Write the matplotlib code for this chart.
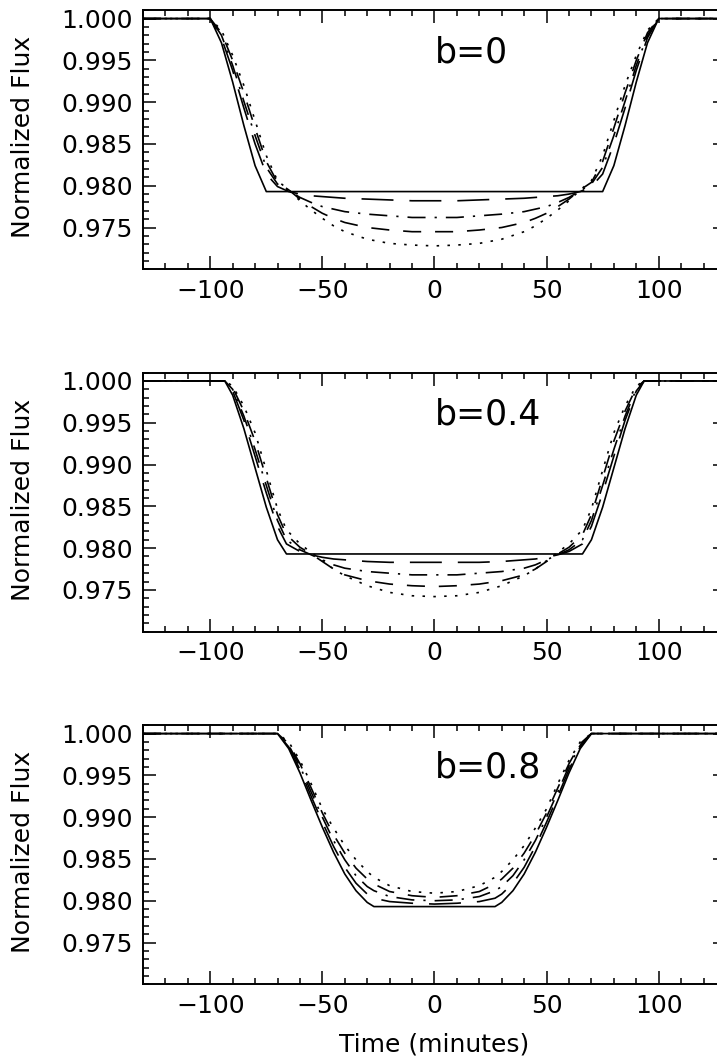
import matplotlib
matplotlib.use("Agg")
import matplotlib.pyplot as plt
from matplotlib.ticker import MultipleLocator, FormatStrFormatter

plt.rcParams["font.family"] = ["DejaVu Sans"]
plt.rcParams["lines.scale_dashes"] = False

# b = 0
time_b00 = [-130, -100, -95, -90, -85, -80, -75, -70, -65, -60, -55, -50, -45, -40, -30, -20, -10, 0,
            10, 20, 30, 40, 45, 50, 55, 60, 65, 70, 75, 80, 85, 90, 95, 100, 130]
solid_b00 = [1.0000, 1.0000, 0.9971, 0.9924, 0.9872, 0.9824, 0.9793, 0.9793, 0.9793, 0.9793, 0.9793, 0.9793,
             0.9793, 0.9793, 0.9793, 0.9793, 0.9793, 0.9793,
             0.9793, 0.9793, 0.9793, 0.9793, 0.9793, 0.9793, 0.9793, 0.9793, 0.9793, 0.9793, 0.9793,
             0.9824, 0.9872, 0.9924, 0.9971, 1.0000, 1.0000]
longdash_b00 = [1.0000, 1.0000, 0.9977, 0.9938, 0.9893, 0.9850, 0.9814, 0.9799, 0.9793, 0.9790, 0.9788, 0.9787,
                0.9786, 0.9785, 0.9784, 0.9783, 0.9782, 0.9782,
                0.9782, 0.9783, 0.9784, 0.9785, 0.9786, 0.9787, 0.9788, 0.9790, 0.9793, 0.9799, 0.9814,
                0.9850, 0.9893, 0.9938, 0.9977, 1.0000, 1.0000]
dashdot_b00 = [1.0000, 1.0000, 0.9980, 0.9944, 0.9901, 0.9860, 0.9822, 0.9802, 0.9794, 0.9786, 0.9780, 0.9775,
               0.9772, 0.9769, 0.9766, 0.9764, 0.9762, 0.9762,
               0.9762, 0.9764, 0.9766, 0.9769, 0.9772, 0.9775, 0.9780, 0.9786, 0.9794, 0.9802, 0.9822,
               0.9860, 0.9901, 0.9944, 0.9980, 1.0000, 1.0000]
dashed_b00 = [1.0000, 1.0000, 0.9983, 0.9950, 0.9911, 0.9869, 0.9829, 0.9804, 0.9795, 0.9784, 0.9775, 0.9767,
              0.9761, 0.9756, 0.9750, 0.9747, 0.9745, 0.9745,
              0.9745, 0.9747, 0.9750, 0.9756, 0.9761, 0.9767, 0.9775, 0.9784, 0.9795, 0.9804, 0.9829,
              0.9869, 0.9911, 0.9950, 0.9983, 1.0000, 1.0000]
dotted_b00 = [1.0000, 1.0000, 0.9986, 0.9956, 0.9920, 0.9878, 0.9836, 0.9806, 0.9795, 0.9782, 0.9771, 0.9761,
              0.9752, 0.9745, 0.9736, 0.9731, 0.9729, 0.9728,
              0.9729, 0.9731, 0.9736, 0.9745, 0.9752, 0.9761, 0.9771, 0.9782, 0.9795, 0.9806, 0.9836,
              0.9878, 0.9920, 0.9956, 0.9986, 1.0000, 1.0000]

# b = 0.4
time_b04 = [-130, -93.5, -90, -85, -80, -75, -70, -66, -60, -55, -50, -45, -40, -30, -20, -10, 0,
            10, 20, 30, 40, 45, 50, 55, 60, 66, 70, 75, 80, 85, 90, 93.5, 130]
solid_b04 = [1.0000, 1.0000, 0.9983, 0.9943, 0.9896, 0.9849, 0.9810, 0.9793, 0.9793, 0.9793, 0.9793, 0.9793,
             0.9793, 0.9793, 0.9793, 0.9793, 0.9793,
             0.9793, 0.9793, 0.9793, 0.9793, 0.9793, 0.9793, 0.9793, 0.9793, 0.9793, 0.9810,
             0.9849, 0.9896, 0.9943, 0.9983, 1.0000, 1.0000]
longdash_b04 = [1.0000, 1.0000, 0.9988, 0.9953, 0.9910, 0.9866, 0.9826, 0.9805, 0.9796, 0.9792, 0.9789, 0.9787,
                0.9786, 0.9784, 0.9783, 0.9783, 0.9783,
                0.9783, 0.9783, 0.9784, 0.9786, 0.9787, 0.9789, 0.9792, 0.9796, 0.9805, 0.9826,
                0.9866, 0.9910, 0.9953, 0.9988, 1.0000, 1.0000]
dashdot_b04 = [1.0000, 1.0000, 0.9990, 0.9958, 0.9918, 0.9875, 0.9833, 0.9810, 0.9798, 0.9792, 0.9786, 0.9780,
               0.9776, 0.9772, 0.9770, 0.9768, 0.9768,
               0.9768, 0.9770, 0.9772, 0.9776, 0.9780, 0.9786, 0.9792, 0.9798, 0.9810, 0.9833,
               0.9875, 0.9918, 0.9958, 0.9990, 1.0000, 1.0000]
dashed_b04 = [1.0000, 1.0000, 0.9992, 0.9964, 0.9928, 0.9884, 0.9840, 0.9816, 0.9801, 0.9793, 0.9784, 0.9775,
              0.9768, 0.9761, 0.9757, 0.9755, 0.9754,
              0.9755, 0.9757, 0.9761, 0.9768, 0.9775, 0.9784, 0.9793, 0.9801, 0.9816, 0.9840,
              0.9884, 0.9928, 0.9964, 0.9992, 1.0000, 1.0000]
dotted_b04 = [1.0000, 1.0000, 0.9994, 0.9970, 0.9938, 0.9893, 0.9847, 0.9822, 0.9805, 0.9795, 0.9785, 0.9775,
              0.9767, 0.9755, 0.9747, 0.9743, 0.9742,
              0.9743, 0.9747, 0.9755, 0.9767, 0.9775, 0.9785, 0.9795, 0.9805, 0.9822, 0.9847,
              0.9893, 0.9938, 0.9970, 0.9994, 1.0000, 1.0000]

# b = 0.8
time_b08 = [-130, -70, -65, -60, -55, -50, -45, -40, -35, -30, -27, -20, -10, 0,
            10, 20, 27, 30, 35, 40, 45, 50, 55, 60, 65, 70, 130]
solid_b08 = [1.0000, 1.0000, 0.9982, 0.9953, 0.9920, 0.9888, 0.9858, 0.9832, 0.9812, 0.9798, 0.9793, 0.9793,
             0.9793, 0.9793,
             0.9793, 0.9793, 0.9793, 0.9798, 0.9812, 0.9832, 0.9858, 0.9888, 0.9920, 0.9953, 0.9982,
             1.0000, 1.0000]
longdash_b08 = [1.0000, 1.0000, 0.9984, 0.9957, 0.9925, 0.9894, 0.9865, 0.9840, 0.9821, 0.9808, 0.9803, 0.9799,
                0.9797, 0.9796,
                0.9797, 0.9799, 0.9803, 0.9808, 0.9821, 0.9840, 0.9865, 0.9894, 0.9925, 0.9957, 0.9984,
                1.0000, 1.0000]
dashdot_b08 = [1.0000, 1.0000, 0.9986, 0.9961, 0.9930, 0.9900, 0.9872, 0.9849, 0.9830, 0.9817, 0.9812, 0.9805,
               0.9801, 0.9800,
               0.9801, 0.9805, 0.9812, 0.9817, 0.9830, 0.9849, 0.9872, 0.9900, 0.9930, 0.9961, 0.9986,
               1.0000, 1.0000]
dashed_b08 = [1.0000, 1.0000, 0.9988, 0.9964, 0.9935, 0.9905, 0.9879, 0.9857, 0.9839, 0.9826, 0.9820, 0.9811,
              0.9806, 0.9804,
              0.9806, 0.9811, 0.9820, 0.9826, 0.9839, 0.9857, 0.9879, 0.9905, 0.9935, 0.9964, 0.9988,
              1.0000, 1.0000]
dotted_b08 = [1.0000, 1.0000, 0.9990, 0.9968, 0.9940, 0.9910, 0.9887, 0.9866, 0.9849, 0.9835, 0.9828, 0.9818,
              0.9811, 0.9809,
              0.9811, 0.9818, 0.9828, 0.9835, 0.9849, 0.9866, 0.9887, 0.9910, 0.9940, 0.9968, 0.9990,
              1.0000, 1.0000]

panel_labels = ["b=0", "b=0.4", "b=0.8"]
x_ticks = [-100, -50, 0, 50, 100]
y_ticks = [0.975, 0.980, 0.985, 0.990, 0.995, 1.000]

panels = [
    (time_b00, [solid_b00, longdash_b00, dashdot_b00, dashed_b00, dotted_b00]),
    (time_b04, [solid_b04, longdash_b04, dashdot_b04, dashed_b04, dotted_b04]),
    (time_b08, [solid_b08, longdash_b08, dashdot_b08, dashed_b08, dotted_b08]),
]

# IDL-like line styles: solid, long dashes, dash-dot, dashed, dotted
styles = [
    "-",
    (0, (23, 11.5)),
    (0, (13, 6.5, 1.6, 6.5)),
    (0, (13, 10)),
    (0, (1.8, 6)),
]

fig = plt.figure(figsize=(7.17, 10.64), dpi=100)
bottoms = [0.7469, 0.4063, 0.0749]

for label, (t, curves), bottom in zip(panel_labels, panels, bottoms):
    ax = fig.add_axes([0.1994, bottom, 0.8131, 0.2435])
    for flux, ls in zip(curves, styles):
        ax.plot(t, flux, color="black", lw=1.2, linestyle=ls)
    ax.set_xlim(-130, 130)
    ax.set_ylim(0.970, 1.001)
    ax.set_xticks(x_ticks)
    ax.set_yticks(y_ticks)
    ax.xaxis.set_minor_locator(MultipleLocator(10))
    ax.yaxis.set_minor_locator(MultipleLocator(0.001))
    ax.yaxis.set_major_formatter(FormatStrFormatter("%.3f"))
    ax.tick_params(which="both", direction="in", top=True, right=True,
                   width=1.1, labelsize=18, color="black")
    ax.tick_params(which="major", length=9.5, pad=7)
    ax.tick_params(which="minor", length=4.5)
    for s in ax.spines.values():
        s.set_linewidth(1.4)
    ax.set_ylabel("Normalized Flux", fontsize=18)
    ax.yaxis.set_label_coords(-0.185, 0.51)
    ax.text(0, 0.9948, label, fontsize=25, ha="left", va="baseline")

ax.set_xlabel("Time (minutes)", fontsize=18)
ax.xaxis.set_label_coords(0.5, -0.185)

fig.savefig("out.png", dpi=100)
